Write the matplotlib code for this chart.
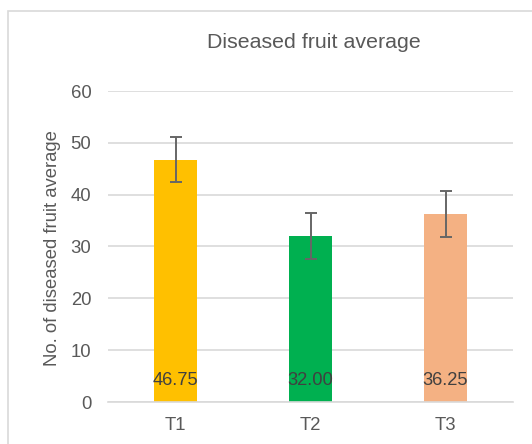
import matplotlib
matplotlib.use("Agg")
import matplotlib.pyplot as plt
from matplotlib.patches import Rectangle

plt.rcParams["font.family"] = ["Liberation Sans", "DejaVu Sans"]

categories = ["T1", "T2", "T3"]
values = [46.75, 32.00, 36.25]
errors = [4.4, 4.4, 4.45]
colors = ["#FFC000", "#00B050", "#F4B183"]

W, H = 532, 444
fig = plt.figure(figsize=(W / 100, H / 100), dpi=100)
ax = fig.add_axes([108 / W, 1 - 402 / H, (513 - 108) / W, (402 - 91) / H])

# Outer chart frame (right and bottom edges fall off the image)
fig.patches.append(Rectangle((8 / W, -0.1), 1.2, 1.1 - 11 / H + 0.0,
                             transform=fig.transFigure, fill=False,
                             edgecolor="#D9D9D9", linewidth=1.2))

x = range(len(categories))
ax.bar(x, values, width=0.32, color=colors, zorder=2)
ax.errorbar(x, values, yerr=errors, fmt="none", ecolor="#666666",
            elinewidth=1.4, capsize=4.3, capthick=1.4, zorder=3)

# Data labels at the base of each bar
for xi, v in zip(x, values):
    ax.annotate(f"{v:.2f}", (xi, 0), xytext=(0, 15.8), textcoords="offset points",
                ha="center", va="center", fontsize=13.2, color="#404040", zorder=4)

ax.set_xlim(-0.5, 2.5)
ax.set_ylim(0, 60)
ax.set_yticks(range(0, 61, 10))
ax.set_xticks(list(x))
ax.set_xticklabels(categories)
ax.grid(axis="y", color="#D9D9D9", linewidth=1.2, zorder=0)
ax.set_axisbelow(True)
for side in ["top", "right", "left"]:
    ax.spines[side].set_visible(False)
ax.spines["bottom"].set_color("#D9D9D9")
ax.spines["bottom"].set_linewidth(1.2)
ax.tick_params(axis="both", length=0, labelsize=13.3, labelcolor="#595959")
ax.tick_params(axis="y", pad=12)
ax.tick_params(axis="x", pad=10.5)

fig.text(53 / W, 1 - 248 / H, "No. of diseased fruit average", rotation=90,
         ha="center", va="center", fontsize=13.3, color="#595959")
fig.text(314 / W, 1 - 42 / H, "Diseased fruit average",
         ha="center", va="center", fontsize=15.4, color="#595959")

fig.savefig("out.png", dpi=100)
